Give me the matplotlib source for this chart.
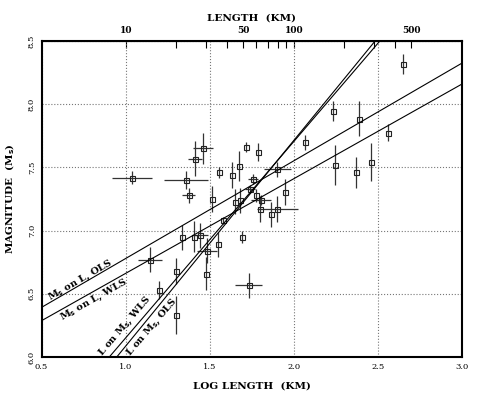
import numpy as np
import matplotlib
matplotlib.use("Agg")
import matplotlib.pyplot as plt

plt.rcParams['font.family'] = ['DejaVu Serif']

# data: log length (km), magnitude Ms, errors
log_len = [1.038, 1.413, 1.458, 1.359, 1.375, 1.515, 1.555, 1.633, 1.672, 1.716,
           1.785, 1.760, 1.902, 2.065, 1.738, 1.650, 1.682, 1.773, 1.807, 1.800,
           1.866, 1.902, 1.950, 1.579, 1.694, 1.145, 1.337, 1.408, 1.442, 1.486,
           1.549, 1.298, 1.200, 1.300, 1.478, 1.732, 2.649, 2.235, 2.387, 2.562,
           2.247, 2.370, 2.459]
mag = [7.42, 7.57, 7.65, 7.40, 7.28, 7.25, 7.46, 7.44, 7.51, 7.66,
       7.62, 7.41, 7.485, 7.70, 7.33, 7.23, 7.24, 7.28, 7.24, 7.17,
       7.13, 7.17, 7.305, 7.08, 6.95, 6.77, 6.947, 6.952, 6.963, 6.84,
       6.89, 6.68, 6.53, 6.335, 6.66, 6.567, 8.32, 7.946, 7.885, 7.775,
       7.52, 7.46, 7.54]
mag_err = [0.05, 0.14, 0.12, 0.07, 0.06, 0.10, 0.04, 0.10, 0.12, 0.04,
           0.07, 0.04, 0.06, 0.06, 0.03, 0.10, 0.10, 0.05, 0.04, 0.10,
           0.10, 0.10, 0.10, 0.03, 0.05, 0.10, 0.10, 0.12, 0.10, 0.10,
           0.10, 0.10, 0.07, 0.15, 0.13, 0.10, 0.08, 0.08, 0.14, 0.07,
           0.16, 0.12, 0.15]
len_err = [0.12, 0.04, 0.06, 0.13, 0.04, 0.0, 0.0, 0.0, 0.0, 0.0,
           0.0, 0.03, 0.08, 0.0, 0.03, 0.0, 0.0, 0.0, 0.06, 0.0,
           0.0, 0.12, 0.0, 0.0, 0.0, 0.07, 0.0, 0.0, 0.05, 0.06,
           0.0, 0.0, 0.0, 0.0, 0.0, 0.08, 0.0, 0.0, 0.0, 0.0,
           0.0, 0.0, 0.0]

# regression lines: Ms = a + b*logL  and  logL = c + d*Ms
ms_on_l_ols = (6.006, 0.773)
ms_on_l_wls = (5.9125, 0.749)
l_on_ms_wls = (-2.958, 0.6435)
l_on_ms_ols = (-2.739, 0.6144)

top_ticks = [10, 20, 30, 40, 50, 60, 70, 80, 90, 100, 200, 300, 400, 500]
top_labels = ['10', '', '', '', '50', '', '', '', '', '100', '', '', '', '500']

fig = plt.figure(figsize=(4.8, 3.96), dpi=100)
ax = fig.add_axes([0.0865, 0.0985, 0.876, 0.798])

ax.errorbar(log_len, mag, yerr=mag_err, xerr=len_err, fmt='s', ms=3.6,
            mfc='none', mec='#222222', mew=0.8, ecolor='#333333',
            elinewidth=0.9, capsize=0, zorder=3)

xs = np.array([0.5, 3.0])
ys = np.array([6.0, 8.5])
for a, b in [ms_on_l_ols, ms_on_l_wls]:
    ax.plot(xs, a + b * xs, color='black', lw=0.8, zorder=4)
for c, d in [l_on_ms_wls, l_on_ms_ols]:
    ax.plot(c + d * ys, ys, color='black', lw=0.8, zorder=4)

lab = dict(fontsize=7, fontweight='bold', ha='center', va='center')
ax.text(0.735, 6.605, 'M$_\\mathbf{s}$ on L, OLS', rotation=30, **lab)
ax.text(0.81, 6.45, 'M$_\\mathbf{s}$ on L, WLS', rotation=29.5, **lab)
ax.text(0.995, 6.245, 'L on M$_\\mathbf{s}$, WLS', rotation=49.5, **lab)
ax.text(1.155, 6.235, 'L on M$_\\mathbf{s}$, OLS', rotation=49.5, **lab)

ax.set_xlim(0.5, 3.0)
ax.set_ylim(6.0, 8.5)
ax.set_xticks([0.5, 1.0, 1.5, 2.0, 2.5, 3.0])
ax.set_xticklabels(['0.5', '1.0', '1.5', '2.0', '2.5', '3.0'])
ax.set_yticks([6.0, 6.5, 7.0, 7.5, 8.0, 8.5])
ax.set_yticklabels(['6.0', '6.5', '7.0', '7.5', '8.0', '8.5'], rotation=90, va='center')
ax.tick_params(axis='both', length=0, labelsize=6, pad=4)
ax.grid(True, ls=':', color='#777777', lw=0.8)
for s in ax.spines.values():
    s.set_linewidth(1.5)

top = ax.secondary_xaxis('top', functions=(lambda v: 10 ** v, np.log10))
top.set_xticks(top_ticks)
top.set_xticklabels(top_labels, fontsize=6.5, fontweight='bold')
top.xaxis.set_minor_locator(matplotlib.ticker.NullLocator())
top.tick_params(axis='x', direction='in', length=5, width=0.8, pad=4)
top.set_xlabel('LENGTH  (KM)', fontsize=7.5, fontweight='bold', labelpad=4)

ax.set_xlabel('LOG LENGTH  (KM)', fontsize=7.5, fontweight='bold', labelpad=8)
ax.set_ylabel('MAGNITUDE  (M$_\\mathbf{s}$)', fontsize=7.5, fontweight='bold', labelpad=8)

fig.savefig('out.png', dpi=100)
